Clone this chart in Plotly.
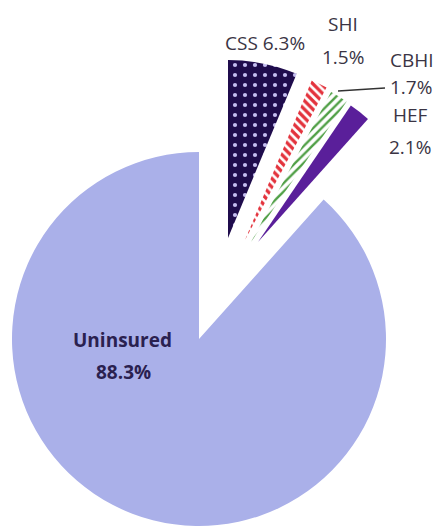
import plotly.graph_objects as go

# ---- data ----
labels = ["CSS", "SHI", "CBHI", "HEF", "Uninsured"]
values = [6.3, 1.5, 1.7, 2.1, 88.3]

# ---- styles ----
colors = ["#1f0c4c", "#ffffff", "#ffffff", "#5a1f9a", "#aab0e9"]
pattern_shapes = [".", "\\", "/", "", ""]
pattern_fg = ["#c4bdf0", "#e3323c", "#4f9f45", "#5a1f9a", "#aab0e9"]
pattern_size = [10, 6, 6, 8, 8]
pattern_solidity = [0.14, 0.55, 0.4, 0.3, 0.3]

# ---- layout geometry (pixels): slice apex x, apex y, radius ----
W, H = 439, 530
geom = {
    "Uninsured": (199, 339, 187),
    "CSS": (228, 238, 178),
    "SHI": (245, 240, 173),
    "CBHI": (251, 242, 170),
    "HEF": (258, 242, 165),
}

fig = go.Figure()
for k, name in enumerate(labels):
    cx, cy, r = geom[name]
    cols = [colors[i] if i == k else "rgba(0,0,0,0)" for i in range(len(labels))]
    shapes = [pattern_shapes[i] if i == k else "" for i in range(len(labels))]
    fgs = [pattern_fg[i] if i == k else "rgba(0,0,0,0)" for i in range(len(labels))]
    fig.add_trace(go.Pie(
        labels=labels, values=values, sort=False, direction="clockwise",
        rotation=0, textinfo="none", hoverinfo="skip", showlegend=False,
        marker=dict(colors=cols, line=dict(width=0),
                    pattern=dict(shape=shapes, fgcolor=fgs, bgcolor=cols,
                                 fgopacity=1,
                                 size=pattern_size[k], solidity=pattern_solidity[k],
                                 fillmode="overlay")),
        domain=dict(x=[(cx - r) / W, (cx + r) / W],
                    y=[1 - (cy + r) / H, 1 - (cy - r) / H]),
    ))

# ---- labels ----
FAMILY = "Open Sans, Lato, sans-serif"
font = dict(family=FAMILY, size=19, color="#3a3444")
def pct(i):
    return f"{values[i]}%"

label_pos = [
    # (text, x, y)
    (f"{labels[0]} {pct(0)}", 265, 43),
    (labels[1], 343, 24),
    (pct(1), 343, 57),
    (labels[2], 412, 60),
    (pct(2), 411, 87),
    (labels[3], 410, 115),
    (pct(3), 410, 147),
]
for t, x, y in label_pos:
    fig.add_annotation(text=t, x=x / W, y=1 - y / H, xref="paper", yref="paper",
                       xanchor="center", yanchor="middle", showarrow=False, font=font)

ufont = dict(family=FAMILY, size=19, color="#2a2150", weight="bold")
fig.add_annotation(text=labels[4], x=122 / W, y=1 - 340 / H,
                   xref="paper", yref="paper", xanchor="center", yanchor="middle",
                   showarrow=False, font=ufont)
fig.add_annotation(text=pct(4), x=123 / W, y=1 - 372 / H,
                   xref="paper", yref="paper", xanchor="center", yanchor="middle",
                   showarrow=False, font=ufont)

# leader line for CBHI
fig.add_shape(type="line", xref="paper", yref="paper",
              x0=338 / W, y0=1 - 91 / H, x1=385 / W, y1=1 - 88 / H,
              line=dict(color="#333333", width=1.5))

fig.update_layout(width=W, height=H, margin=dict(l=0, r=0, t=0, b=0),
                  paper_bgcolor="white", plot_bgcolor="white")
fig.write_html("out.html", config={"displayModeBar": False},
               post_script="document.body.style.margin='0';document.body.style.overflow='hidden';")
